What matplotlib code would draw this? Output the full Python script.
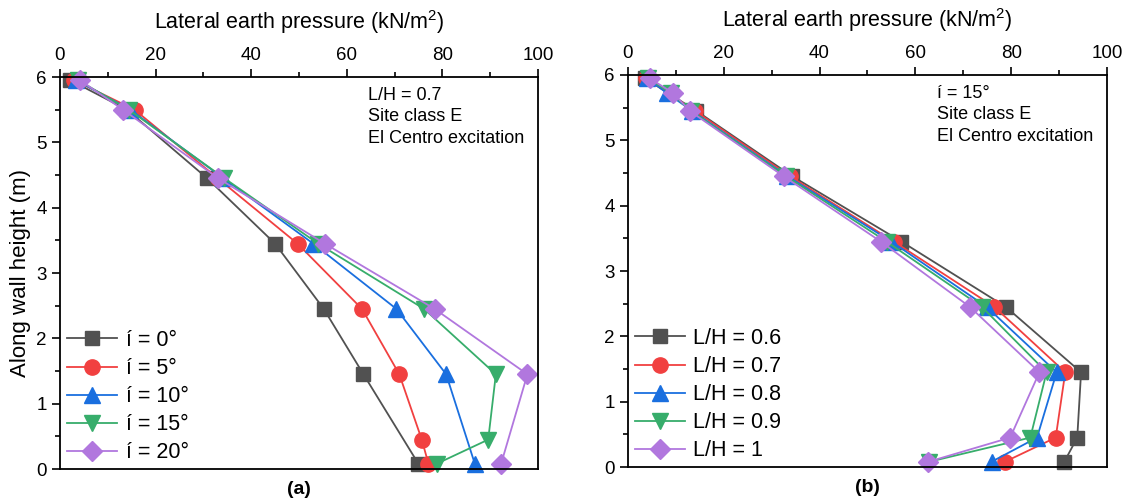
import matplotlib.pyplot as plt
from matplotlib.ticker import MultipleLocator
from matplotlib import rcParams

rcParams['font.family'] = ['Liberation Sans', 'DejaVu Sans']
rcParams['mathtext.fontset'] = 'custom'
rcParams['mathtext.rm'] = 'Liberation Sans'
rcParams['mathtext.it'] = 'Liberation Sans:italic'

colors = ['#515151', '#F14040', '#1A6FDF', '#37AD6B', '#B177DE']
markers = ['s', 'o', '^', 'v', 'D']
msizes = [10, 11, 11, 11, 10]

# (a) L/H = 0.7, varying inclination
labels_a = ['í = 0°', 'í = 5°', 'í = 10°', 'í = 15°', 'í = 20°']
depth_a = [
    [5.95, 5.5, 4.45, 3.45, 2.45, 1.45, 0.08],
    [5.95, 5.5, 4.45, 3.45, 2.45, 1.45, 0.45, 0.08],
    [5.95, 5.5, 4.45, 3.45, 2.45, 1.45, 0.08],
    [5.95, 5.5, 4.45, 3.45, 2.45, 1.45, 0.45, 0.08],
    [5.95, 5.5, 4.45, 3.45, 2.45, 1.45, 0.08],
]
press_a = [
    [2.2, 14.0, 30.8, 45.0, 55.2, 63.5, 75.0],
    [3.0, 15.6, 33.0, 49.7, 63.2, 71.0, 75.7, 77.1],
    [3.4, 14.7, 34.2, 53.0, 70.4, 80.8, 86.8],
    [3.8, 14.4, 34.4, 54.0, 76.2, 91.2, 89.6, 78.8],
    [4.2, 13.2, 33.1, 55.4, 78.4, 97.8, 92.3],
]

# (b) i = 15 deg, varying L/H
labels_b = ['L/H = 0.6', 'L/H = 0.7', 'L/H = 0.8', 'L/H = 0.9', 'L/H = 1']
depth_b = [
    [5.95, 5.45, 4.45, 3.45, 2.45, 1.45, 0.45, 0.08],
    [5.95, 5.45, 4.45, 3.45, 2.45, 1.45, 0.45, 0.08],
    [5.95, 5.72, 5.45, 4.45, 3.45, 2.45, 1.45, 0.45, 0.08],
    [5.95, 5.72, 5.45, 4.45, 3.45, 2.45, 1.45, 0.45, 0.08],
    [5.95, 5.72, 5.45, 4.45, 3.45, 2.45, 1.45, 0.45, 0.08],
]
press_b = [
    [3.5, 14.3, 34.3, 57.1, 78.9, 94.6, 93.8, 91.1],
    [3.8, 14.0, 33.8, 55.5, 76.5, 91.3, 89.3, 78.7],
    [4.0, 8.2, 13.4, 33.3, 55.0, 74.9, 89.5, 85.4, 75.9],
    [4.2, 9.0, 13.2, 33.0, 54.0, 73.9, 87.4, 84.0, 62.9],
    [4.5, 9.5, 12.9, 32.5, 52.8, 71.4, 85.9, 79.8, 62.7],
]

fig = plt.figure(figsize=(11.27, 5.04), dpi=100)
ax1 = fig.add_axes([0.0532, 0.0694, 0.4241, 0.7778])
ax2 = fig.add_axes([0.5572, 0.0734, 0.4250, 0.7778])


def draw(ax, depths, press, labels, note, tag):
    for d, p, lab, c, m, ms in zip(depths, press, labels, colors, markers, msizes):
        ax.plot(p, d, color=c, marker=m, markersize=ms, lw=1.3, label=lab, clip_on=False)
    ax.set_xlim(0, 100)
    ax.set_ylim(0, 6)
    ax.xaxis.set_major_locator(MultipleLocator(20))
    ax.xaxis.set_minor_locator(MultipleLocator(10))
    ax.yaxis.set_major_locator(MultipleLocator(1))
    ax.yaxis.set_minor_locator(MultipleLocator(0.5))
    ax.xaxis.tick_top()
    ax.xaxis.set_label_position('top')
    ax.tick_params(which='both', direction='out', labelsize=13.5, width=1.2)
    ax.tick_params(which='major', length=6)
    ax.tick_params(which='minor', length=3.5)
    for s in ax.spines.values():
        s.set_linewidth(1.3)
    ax.set_xlabel('Lateral earth pressure (kN/m$^2$)', fontsize=15.5, labelpad=13)
    ax.text(0.645, 0.975, note, transform=ax.transAxes, ha='left', va='top',
            fontsize=13, linespacing=1.35)
    ax.text(0.5, -0.053, tag, transform=ax.transAxes, ha='center', va='center',
            fontsize=14, fontweight='bold')
    ax.legend(loc='lower left', bbox_to_anchor=(-0.025, -0.035), frameon=False,
              fontsize=15.5, handlelength=2.3, handletextpad=0.4, labelspacing=0.33)


draw(ax1, depth_a, press_a, labels_a, 'L/H = 0.7\nSite class E\nEl Centro excitation', '(a)')
draw(ax2, depth_b, press_b, labels_b, 'í = 15°\nSite class E\nEl Centro excitation', '(b)')
ax1.set_ylabel('Along wall height (m)', fontsize=16, labelpad=4)

fig.savefig('out.png', dpi=100)
